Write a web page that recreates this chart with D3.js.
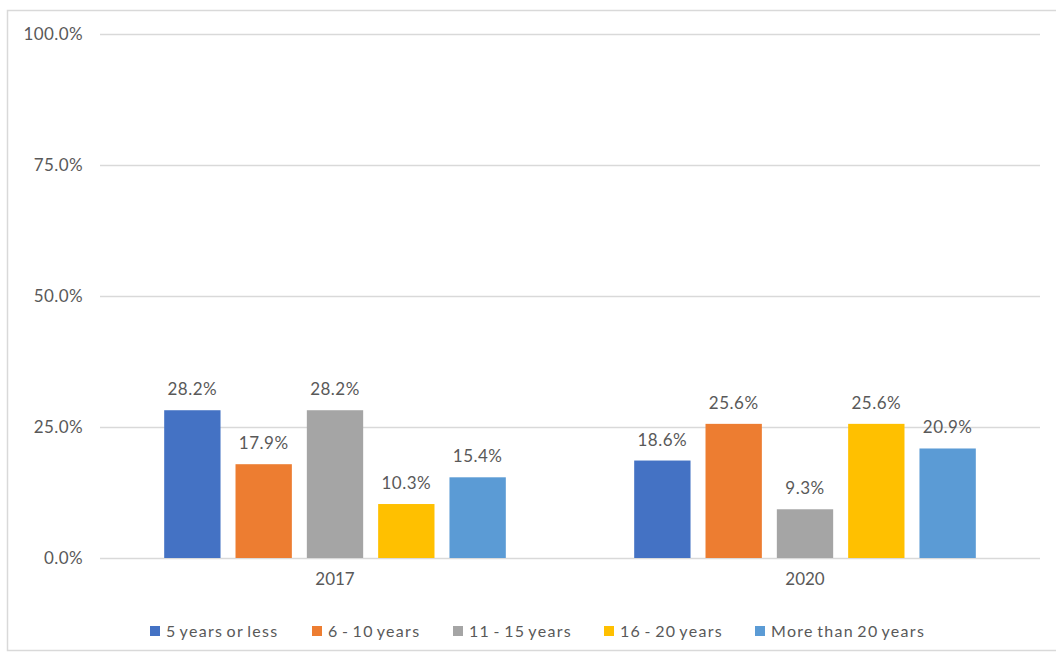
<!DOCTYPE html>
<html>
<head>
<meta charset="utf-8">
<script src="https://cdn.jsdelivr.net/npm/d3@7"></script>
<style>
  html, body { margin: 0; padding: 0; background: #fff; }
  svg { display: block; }
  text { font-family: Lato, "Open Sans", sans-serif; fill: #595959; }
</style>
</head>
<body>
<svg id="chart" width="1056" height="658"></svg>
<script>
// Years of experience, share of respondents per survey year
const years = ["2017", "2020"];
const groups = ["5 years or less", "6 - 10 years", "11 - 15 years", "16 - 20 years", "More than 20 years"];
const values2017 = [28.2, 17.9, 28.2, 10.3, 15.4];
const values2020 = [18.6, 25.6, 9.3, 25.6, 20.9];
const colors = ["#4472c4", "#ed7d31", "#a5a5a5", "#ffc000", "#5b9bd5"];
const yTicks = [0, 25, 50, 75, 100];

const seriesByYear = { "2017": values2017, "2020": values2020 };

const svg = d3.select("#chart");
const W = 1056, H = 658;

// chart frame
svg.append("rect")
  .attr("x", 7.5).attr("y", 10.5)
  .attr("width", W + 10).attr("height", H - 18)
  .attr("fill", "#fff")
  .attr("stroke", "#d9d9d9").attr("stroke-width", 1.5);

const plot = { left: 100, right: 1040, top: 34, bottom: 558 };

const x0 = d3.scaleBand().domain(years).range([plot.left, plot.right]).paddingInner(0).paddingOuter(0);
const x1 = d3.scaleBand().domain(groups).range([0, x0.bandwidth()]).paddingInner(0.21).paddingOuter(0.9);
const y = d3.scaleLinear().domain([0, 100]).range([plot.bottom, plot.top]);

// gridlines
svg.append("g").selectAll("line").data(yTicks).join("line")
  .attr("x1", plot.left).attr("x2", plot.right)
  .attr("y1", d => y(d) + 0.5).attr("y2", d => y(d) + 0.5)
  .attr("stroke", "#d9d9d9").attr("stroke-width", 1.5);

// y axis labels
const yAxis = d3.axisLeft(y).tickValues(yTicks).tickSize(0).tickPadding(0)
  .tickFormat(d => d3.format(".1f")(d) + "%");
const gy = svg.append("g").attr("transform", `translate(${plot.left - 17},0)`).call(yAxis);
gy.select(".domain").remove();
gy.selectAll("text").style("font-size", "17px").style("letter-spacing", "0.4px").attr("fill", "#595959")
  .style("font-family", "Lato, 'Open Sans', sans-serif");

// x axis labels
const xAxis = d3.axisBottom(x0).tickSize(0).tickPadding(0);
const gx = svg.append("g").attr("transform", `translate(0,${plot.bottom + 15})`).call(xAxis);
gx.select(".domain").remove();
gx.selectAll("text").style("font-size", "17px").attr("fill", "#595959")
  .style("font-family", "Lato, 'Open Sans', sans-serif");

// bars and value labels
const yearG = svg.append("g").selectAll("g").data(years).join("g")
  .attr("transform", d => `translate(${x0(d)},0)`);

const cells = yearG.selectAll("g").data(yr => groups.map((g, i) => ({ g, i, v: seriesByYear[yr][i] }))).join("g");

cells.append("rect")
  .attr("x", d => x1(d.g))
  .attr("y", d => y(d.v))
  .attr("width", x1.bandwidth())
  .attr("height", d => y(0) - y(d.v))
  .attr("fill", d => colors[d.i]);

cells.append("text")
  .attr("x", d => x1(d.g) + x1.bandwidth() / 2)
  .attr("y", d => y(d.v) - 15)
  .attr("text-anchor", "middle")
  .style("font-size", "17px")
  .style("letter-spacing", "0.5px")
  .text(d => d3.format(".1f")(d.v) + "%");

// legend
const legendX = [150, 312, 453, 604, 755];
const legend = svg.append("g").selectAll("g").data(groups).join("g")
  .attr("transform", (d, i) => `translate(${legendX[i]},631)`);
legend.append("rect").attr("x", 0).attr("y", -5).attr("width", 10).attr("height", 10)
  .attr("fill", (d, i) => colors[i]);
legend.append("text").attr("x", 16).attr("y", 0).attr("dy", "0.35em")
  .style("font-size", "16px").style("letter-spacing", "1.3px").style("word-spacing", "-2px").text(d => d);
</script>
</body>
</html>
